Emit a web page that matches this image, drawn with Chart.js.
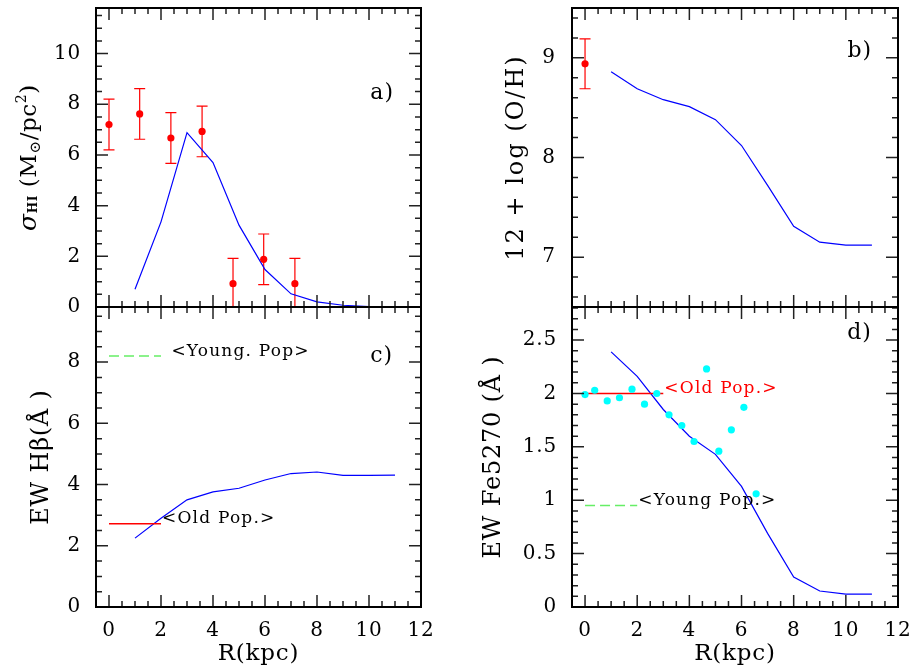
<!DOCTYPE html>
<html><head><meta charset="utf-8">
<script src="https://cdn.jsdelivr.net/npm/chart.js@4.4.0/dist/chart.umd.min.js"></script>
<style>
html,body{margin:0;padding:0;background:#fff;}
#wrap{position:relative;width:914px;height:671px;overflow:hidden;background:#fff;}
canvas{position:absolute;left:0;top:0;}
</style></head><body>
<div id="wrap">
<canvas id="ca" width="914" height="671"></canvas>
<canvas id="cb" width="914" height="671"></canvas>
<canvas id="cc" width="914" height="671"></canvas>
<canvas id="cd" width="914" height="671"></canvas>
</div>
<script>
// ---------------- data ----------------
const R_model = [1, 2, 3, 4, 5, 6, 7, 8, 9, 10, 11];
const sigmaHI_model = [0.7, 3.36, 6.88, 5.7, 3.23, 1.48, 0.52, 0.2, 0.07, 0.02, 0.0];
const sigmaHI_obs_R = [0, 1.18, 2.38, 3.58, 4.77, 5.95, 7.15];
const sigmaHI_obs = [7.2, 7.62, 6.67, 6.93, 0.92, 1.88, 0.92];
const sigmaHI_err = [1, 1, 1, 1, 1, 1, 1];

const OH_model = [8.86, 8.69, 8.58, 8.51, 8.38, 8.12, 7.72, 7.31, 7.15, 7.12, 7.12];
const OH_obs_R = [0];
const OH_obs = [8.94];
const OH_err = [0.25];

const Hbeta_model = [2.25, 2.9, 3.5, 3.76, 3.88, 4.15, 4.36, 4.41, 4.3, 4.3, 4.31];
const Hbeta_pop_R = [0, 2];
const Hbeta_old = [2.72, 2.72];
const Hbeta_young = [8.2, 8.2];

const Fe_model = [2.39, 2.16, 1.85, 1.60, 1.43, 1.13, 0.69, 0.28, 0.15, 0.12, 0.12];
const Fe_obs_R = [0, 0.37, 0.85, 1.32, 1.80, 2.28, 2.75, 3.22, 3.71, 4.18, 4.66, 5.13, 5.61, 6.09, 6.56];
const Fe_obs = [1.99, 2.03, 1.93, 1.96, 2.04, 1.90, 2.0, 1.80, 1.70, 1.55, 2.23, 1.46, 1.66, 1.87, 1.06];
const Fe_old_R = [0, 3];
const Fe_old = [2.0, 2.0];
const Fe_young_R = [0, 2];
const Fe_young = [0.95, 0.95];

const xTicks = [0, 2, 4, 6, 8, 10, 12];
const xTickLabels = ['0', '2', '4', '6', '8', '10', '12'];
const sigmaTicks = [0, 2, 4, 6, 8, 10];
const sigmaTickLabels = ['0', '2', '4', '6', '8', '10'];
const OHTicks = [7, 8, 9];
const OHTickLabels = ['7', '8', '9'];
const HbetaTicks = [0, 2, 4, 6, 8];
const HbetaTickLabels = ['0', '2', '4', '6', '8'];
const FeTicks = [0, 0.5, 1, 1.5, 2, 2.5];
const FeTickLabels = ['0', '0.5', '1', '1.5', '2', '2.5'];

// ---------------- helpers ----------------
const FONT = "'DejaVu Serif', 'Liberation Serif', serif";
const pts = (xs, ys) => xs.map((x, i) => ({x: x, y: ys[i]}));

function tickList(min, max, step, major) {
  const out = [];
  const k0 = Math.ceil(min / step - 1e-9), k1 = Math.floor(max / step + 1e-9);
  for (let k = k0; k <= k1; k++) {
    const v = +(k * step).toFixed(6);
    const r = v / major;
    out.push({v: v, major: Math.abs(r - Math.round(r)) < 1e-6});
  }
  return out;
}

function zeroPad(s) { s.paddingTop = 0; s.paddingBottom = 0; s.paddingLeft = 0; s.paddingRight = 0; }

const framePlugin = {
  id: 'frame',
  beforeDraw(chart) {
    const o = chart.options.plugins.frame;
    chart.ctx.letterSpacing = (o.ls || 0.8) + 'px';
  },
  beforeDatasetsDraw(chart) {
    const o = chart.options.plugins.frame;
    if (!o.errors) return;
    const {ctx, chartArea: ca, scales: {x, y}} = chart;
    ctx.save();
    ctx.beginPath(); ctx.rect(ca.left, ca.top, ca.right - ca.left, ca.bottom - ca.top); ctx.clip();
    ctx.strokeStyle = '#ff0000'; ctx.lineWidth = 1.2;
    o.errors.xs.forEach((xv, i) => {
      const px = x.getPixelForValue(xv);
      const hi = y.getPixelForValue(o.errors.ys[i] + o.errors.es[i]);
      const lo = y.getPixelForValue(o.errors.ys[i] - o.errors.es[i]);
      ctx.beginPath();
      ctx.moveTo(px, hi); ctx.lineTo(px, lo);
      ctx.moveTo(px - 5.5, hi); ctx.lineTo(px + 5.5, hi);
      ctx.moveTo(px - 5.5, lo); ctx.lineTo(px + 5.5, lo);
      ctx.stroke();
    });
    ctx.restore();
  },
  afterDraw(chart) {
    const o = chart.options.plugins.frame;
    const {ctx, chartArea: ca, scales: {x, y}} = chart;
    ctx.save();
    ctx.strokeStyle = '#222'; ctx.lineWidth = 1.5;
    ctx.beginPath();
    tickList(x.min, x.max, o.xMinor, o.xMajor).forEach(t => {
      const px = x.getPixelForValue(t.v); const L = t.major ? 12 : 6;
      ctx.moveTo(px, ca.bottom); ctx.lineTo(px, ca.bottom - L);
      ctx.moveTo(px, ca.top); ctx.lineTo(px, ca.top + L);
    });
    tickList(y.min, y.max, o.yMinor, o.yMajor).forEach(t => {
      const py = y.getPixelForValue(t.v); const L = t.major ? 12 : 6;
      ctx.moveTo(ca.left, py); ctx.lineTo(ca.left + L, py);
      ctx.moveTo(ca.right, py); ctx.lineTo(ca.right - L, py);
    });
    ctx.stroke();
    ctx.strokeStyle = '#000'; ctx.lineWidth = 2;
    ctx.strokeRect(ca.left, ca.top, ca.right - ca.left, ca.bottom - ca.top);
    // annotations
    (o.notes || []).forEach(n => {
      ctx.letterSpacing = (n.ls || 0) + 'px';
      ctx.font = n.size + 'px ' + FONT;
      ctx.fillStyle = n.color || '#000';
      ctx.textAlign = 'left'; ctx.textBaseline = 'middle';
      ctx.fillText(n.text, x.getPixelForValue(n.x), y.getPixelForValue(n.y));
    });
    if (o.sigmaLabel) drawSigmaLabel(ctx, o.sigmaLabel.cx, (ca.top + ca.bottom) / 2);
    ctx.restore();
  }
};

function drawSigmaLabel(ctx, cx, cy) {
  const parts = [
    {t: 'σ', f: 'italic 25px ' + FONT, dy: 0},
    {t: 'HI', f: 'bold 12px ' + FONT, dy: 1},
    {t: ' (M', f: '23px ' + FONT, dy: 0},
    {t: '⊙', f: '15px ' + FONT, dy: 4},
    {t: '/pc', f: '23px ' + FONT, dy: 0},
    {t: '2', f: '14px ' + FONT, dy: -10},
    {t: ')', f: '23px ' + FONT, dy: 0}
  ];
  ctx.save();
  ctx.letterSpacing = '0.6px';
  let total = 0;
  parts.forEach(p => { ctx.font = p.f; p.w = ctx.measureText(p.t).width; total += p.w; });
  ctx.translate(cx, cy);
  ctx.rotate(-Math.PI / 2);
  ctx.fillStyle = '#000'; ctx.textAlign = 'left'; ctx.textBaseline = 'alphabetic';
  let xx = -total / 2;
  parts.forEach(p => { ctx.font = p.f; ctx.fillText(p.t, xx, 8 + p.dy); xx += p.w; });
  ctx.restore();
}

function modelLine(ys) {
  return {data: pts(R_model, ys), showLine: true, borderColor: '#0000ff', borderWidth: 1.2,
          pointRadius: 0, tension: 0, fill: false};
}

function makePanel(id, cfg) {
  return new Chart(document.getElementById(id), {
    type: 'scatter',
    data: {datasets: cfg.datasets},
    options: {
      responsive: false, animation: false, devicePixelRatio: 1, events: [],
      layout: {padding: cfg.pad},
      plugins: {legend: {display: false}, tooltip: {enabled: false}, frame: cfg.frame},
      scales: {
        x: {
          type: 'linear', min: -0.5, max: 12,
          afterBuildTicks: s => { s.ticks = xTicks.map(v => ({value: v})); },
          afterFit: s => { s.height = cfg.xh; zeroPad(s); },
          grid: {display: false, drawTicks: false}, border: {display: false},
          ticks: {display: cfg.xLabels, padding: 12, maxRotation: 0, minRotation: 0, autoSkip: false,
                  color: '#000', font: {family: FONT, size: 20},
                  callback: v => xTickLabels[xTicks.indexOf(v)]},
          title: {display: cfg.xLabels, text: 'R(kpc)', color: '#000',
                  font: {family: FONT, size: 23}, padding: {top: 0, bottom: 3}}
        },
        y: {
          type: 'linear', min: cfg.ymin, max: cfg.ymax,
          afterBuildTicks: s => { s.ticks = cfg.yTicks.map(v => ({value: v})); },
          afterFit: s => { s.width = cfg.yw; zeroPad(s); },
          grid: {display: false, drawTicks: false}, border: {display: false},
          ticks: {padding: 15, autoSkip: false, color: '#000', font: {family: FONT, size: 20},
                  callback: v => cfg.yLabels[cfg.yTicks.indexOf(v)]},
          title: {display: !!cfg.yTitle, text: cfg.yTitle || '', color: '#000',
                  font: {family: FONT, size: 24}, padding: {top: cfg.ytp || 0, bottom: 0}}
        }
      }
    },
    plugins: [framePlugin]
  });
}

// ---------------- panel a ----------------
makePanel('ca', {
  pad: {left: 0, top: 8, right: 493, bottom: 364}, xh: 0, yw: 96, xLabels: false,
  ymin: 0, ymax: 11.8, yTicks: sigmaTicks, yLabels: sigmaTickLabels,
  datasets: [
    {data: pts(sigmaHI_obs_R, sigmaHI_obs), pointRadius: 3.6, pointBackgroundColor: '#ff0000',
     pointBorderColor: '#ff0000', pointBorderWidth: 0, showLine: false},
    modelLine(sigmaHI_model)
  ],
  frame: {xMajor: 2, xMinor: 0.5, yMajor: 2, yMinor: 0.5,
          errors: {xs: sigmaHI_obs_R, ys: sigmaHI_obs, es: sigmaHI_err},
          notes: [{text: 'a)', x: 10.05, y: 8.42, size: 22, ls: 1}],
          sigmaLabel: {cx: 28}}
});

// ---------------- panel b ----------------
makePanel('cb', {
  pad: {left: 490, top: 8, right: 16, bottom: 364}, xh: 0, yw: 82, xLabels: false,
  ymin: 6.5, ymax: 9.5, yTicks: OHTicks, yLabels: OHTickLabels,
  yTitle: '12 + log (O/H)', ytp: 12,
  datasets: [
    {data: pts(OH_obs_R, OH_obs), pointRadius: 3.6, pointBackgroundColor: '#ff0000',
     pointBorderColor: '#ff0000', pointBorderWidth: 0, showLine: false},
    modelLine(OH_model)
  ],
  frame: {xMajor: 2, xMinor: 0.5, yMajor: 1, yMinor: 0.2, ls: 2,
          errors: {xs: OH_obs_R, ys: OH_obs, es: OH_err},
          notes: [{text: 'b)', x: 10.06, y: 9.07, size: 22, ls: 1}]}
});

// ---------------- panel c ----------------
makePanel('cc', {
  pad: {left: 0, top: 307, right: 493, bottom: 0}, xh: 64, yw: 96, xLabels: true,
  ymin: 0, ymax: 9.8, yTicks: HbetaTicks, yLabels: HbetaTickLabels,
  yTitle: 'EW Hβ(Å )', ytp: 27,
  datasets: [
    {data: pts(Hbeta_pop_R, Hbeta_old), showLine: true, borderColor: '#ff0000', borderWidth: 1.3, pointRadius: 0},
    {data: pts(Hbeta_pop_R, Hbeta_young), showLine: true, borderColor: '#66ee66', borderWidth: 1.5,
     borderDash: [10, 5], pointRadius: 0},
    modelLine(Hbeta_model)
  ],
  frame: {xMajor: 2, xMinor: 0.5, yMajor: 2, yMinor: 0.5,
          notes: [{text: 'c)', x: 10.05, y: 8.19, size: 22, ls: 1},
                  {text: '<Young. Pop>', x: 2.4, y: 8.36, size: 17, ls: 1.2},
                  {text: '<Old Pop.>', x: 2.04, y: 2.88, size: 17, ls: 1.2}]}
});

// ---------------- panel d ----------------
makePanel('cd', {
  pad: {left: 470, top: 307, right: 16, bottom: 0}, xh: 64, yw: 102, xLabels: true,
  ymin: 0, ymax: 2.81, yTicks: FeTicks, yLabels: FeTickLabels,
  yTitle: 'EW Fe5270 (Å )', ytp: 9,
  datasets: [
    {data: pts(Fe_obs_R, Fe_obs), pointRadius: 3.6, pointBackgroundColor: '#00ffff',
     pointBorderColor: '#00ffff', pointBorderWidth: 0, showLine: false},
    {data: pts(Fe_old_R, Fe_old), showLine: true, borderColor: '#ff0000', borderWidth: 1.3, pointRadius: 0},
    {data: pts(Fe_young_R, Fe_young), showLine: true, borderColor: '#66ee66', borderWidth: 1.5,
     borderDash: [10, 5], pointRadius: 0},
    modelLine(Fe_model)
  ],
  frame: {xMajor: 2, xMinor: 0.5, yMajor: 0.5, yMinor: 0.1,
          notes: [{text: 'd)', x: 10.05, y: 2.565, size: 22, ls: 1},
                  {text: '<Old Pop.>', x: 3.04, y: 2.05, size: 17, ls: 1.2, color: '#ff0000'},
                  {text: '<Young Pop.>', x: 2.04, y: 1.0, size: 17, ls: 1.2}]}
});
</script>
</body></html>
